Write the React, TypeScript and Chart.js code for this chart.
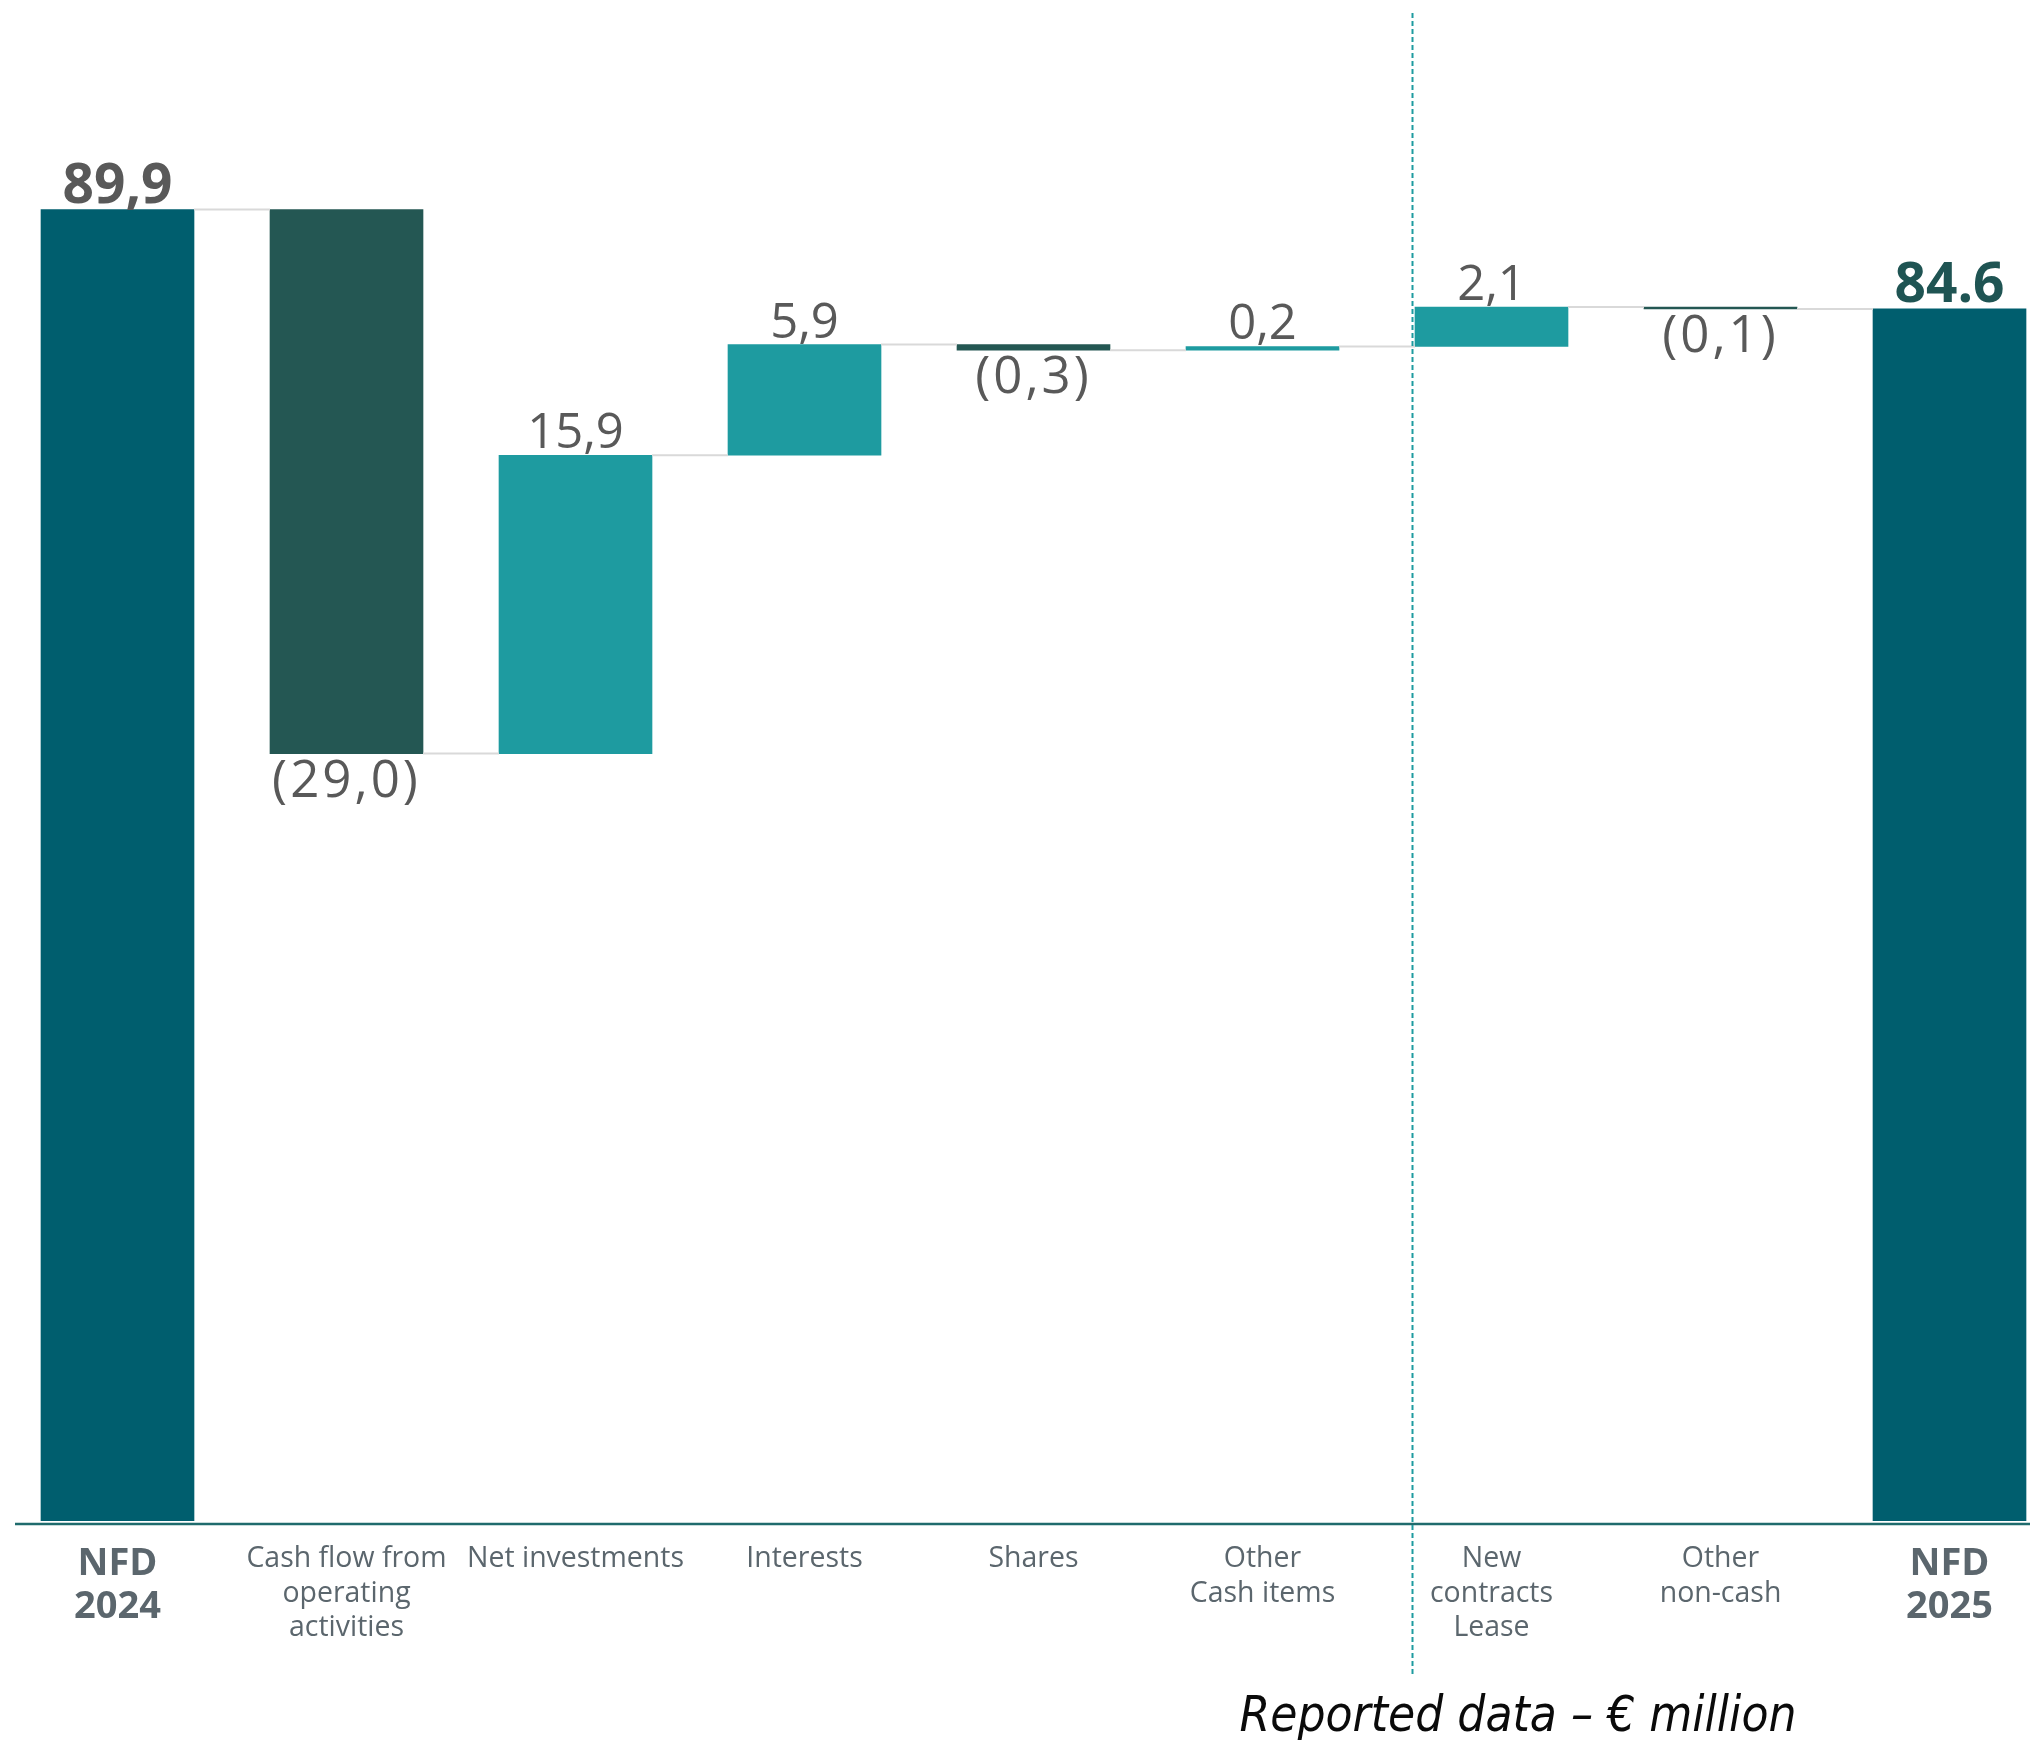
import React, { useEffect, useRef } from 'react';
import { Chart, registerables } from 'chart.js';

Chart.register(...registerables);

// ---------------- data ----------------
const categories: string[][] = [
  ['NFD', '2024'],
  ['Cash flow from', 'operating', 'activities'],
  ['Net investments'],
  ['Interests'],
  ['Shares'],
  ['Other', 'Cash items'],
  ['New', 'contracts', 'Lease'],
  ['Other', 'non-cash'],
  ['NFD', '2025'],
];
const openingNFD = 89.9;
const movements = [-29.0, 15.9, 5.9, -0.3, 0.2, 2.1, -0.1];
const closingNFD = 84.6;
const valueLabels = ['89,9', '(29,0)', '15,9', '5,9', '(0,3)', '0,2', '2,1', '(0,1)', '84.6'];
const yAxisRange = [20, 100];
const xAxisRange = [-0.4476, 8.3515];
const dividerAt = 5.653; // separates cash items from non-cash items
const caption = 'Reported data \u2013 \u20ac million';

// ---------------- styles ----------------
const TOTAL_COLOR = '#005e6e';
const DECREASE_COLOR = '#245753';
const INCREASE_COLOR = '#1e9ba0';
const CONNECTOR_COLOR = '#d9d9d9';
const AXIS_COLOR = '#1f6b6d';
const VALUE_COLOR = '#595959';
const CLOSING_VALUE_COLOR = '#1f5453';
const CATEGORY_COLOR = '#5b666d';

const W = 2030;
const H = 1740;

function pickFont(cands: string[], fallback: string): string {
  const ctx = document.createElement('canvas').getContext('2d');
  if (!ctx) return fallback;
  const sample = 'Cash flow from operating activities 2024';
  for (const f of cands) {
    let differs = false;
    for (const base of ['monospace', 'serif']) {
      ctx.font = `40px ${base}`;
      const a = ctx.measureText(sample).width;
      ctx.font = `40px "${f}", ${base}`;
      const b = ctx.measureText(sample).width;
      if (Math.abs(a - b) > 0.5) differs = true;
    }
    if (differs) return `"${f}"`;
  }
  return fallback;
}

function fitSize(family: string, style: string, text: string, target: number, lo: number, hi: number) {
  const ctx = document.createElement('canvas').getContext('2d');
  if (!ctx) return lo;
  ctx.font = `${style} 100px ${family}`;
  const w = ctx.measureText(text).width / 100;
  return Math.max(lo, Math.min(hi, target / w));
}

export default function App() {
  const ref = useRef<HTMLCanvasElement | null>(null);

  useEffect(() => {
    document.body.style.margin = '0';
    document.body.style.overflow = 'hidden';
    const canvas = ref.current;
    if (!canvas) return;

    const narrow = pickFont(
      ['Liberation Sans Narrow', 'DejaVu Sans Condensed', 'Roboto Condensed', 'Open Sans Condensed', 'Noto Sans Condensed'],
      '"Open Sans"'
    );
    const sans = '"Open Sans", "Noto Sans", sans-serif';
    const capFamily = `${narrow}, ${sans}`;
    const capSize = fitSize(capFamily, 'italic', caption, 557, 36, 54);

    // category label font: Open Sans, horizontally condensed to the reference width
    const CAT_SIZE = 29.5;
    const catFont = `${CAT_SIZE}px ${sans}`;
    let catScaleX = 0.9;
    {
      const m = document.createElement('canvas').getContext('2d');
      if (m) {
        m.font = catFont;
        catScaleX = Math.min(1, 217 / m.measureText('Net investments').width);
      }
    }

    // build floating bars from the data
    const barData: { x: number; y: [number, number] }[] = [];
    const colors: string[] = [];
    const levels: number[] = [];
    let running = openingNFD;
    barData.push({ x: 0, y: [0, openingNFD] });
    colors.push(TOTAL_COLOR);
    levels.push(running);
    movements.forEach((m, i) => {
      const start = running;
      running = Math.round((running + m) * 10) / 10;
      barData.push({ x: i + 1, y: [start, running] });
      colors.push(m < 0 ? DECREASE_COLOR : INCREASE_COLOR);
      levels.push(running);
    });
    barData.push({ x: categories.length - 1, y: [0, closingNFD] });
    colors.push(TOTAL_COLOR);
    levels.push(closingNFD);

    const decor = {
      id: 'waterfallDecor',
      afterDatasetsDraw(chart: any) {
        const ctx = chart.ctx as CanvasRenderingContext2D;
        const xs = chart.scales.x;
        const ys = chart.scales.y;
        const area = chart.chartArea;
        const meta = chart.getDatasetMeta(0);
        const els = meta.data as any[];
        ctx.save();
        // connectors
        ctx.strokeStyle = CONNECTOR_COLOR;
        ctx.lineWidth = 2;
        for (let i = 0; i < els.length - 1; i++) {
          const y = ys.getPixelForValue(levels[i]);
          const x1 = els[i].x + els[i].width / 2;
          const x2 = els[i + 1].x - els[i + 1].width / 2;
          ctx.beginPath();
          ctx.moveTo(x1, y);
          ctx.lineTo(x2, y);
          ctx.stroke();
        }
        // value labels
        ctx.textAlign = 'center';
        ctx.textBaseline = 'alphabetic';
        els.forEach((el, i) => {
          const top = Math.min(el.y, el.base);
          const bottom = Math.max(el.y, el.base);
          const isTotal = i === 0 || i === els.length - 1;
          const isNeg = !isTotal && movements[i - 1] < 0;
          ctx.font = isTotal ? `bold 55px ${sans}` : isNeg ? `51px ${sans}` : `49px ${sans}`;
          (ctx as any).letterSpacing = isNeg ? '3px' : '0px';
          ctx.fillStyle = i === els.length - 1 ? CLOSING_VALUE_COLOR : VALUE_COLOR;
          const label = valueLabels[i];
          if (isNeg) {
            const asc = ctx.measureText(label).actualBoundingBoxAscent;
            ctx.fillText(label, el.x, bottom + 5 + asc);
          } else {
            ctx.fillText(label, el.x, top - 7);
          }
        });
        (ctx as any).letterSpacing = '0px';
        // category labels under the axis
        ctx.fillStyle = CATEGORY_COLOR;
        categories.forEach((lines, i) => {
          const x = xs.getPixelForValue(i);
          const isTotal = i === 0 || i === categories.length - 1;
          lines.forEach((line, j) => {
            if (isTotal) {
              ctx.font = `bold 38px ${sans}`;
              ctx.fillText(line, x, area.bottom + 54 + j * 43);
            } else {
              ctx.font = catFont;
              ctx.save();
              ctx.translate(x, area.bottom + 46 + j * 34.6);
              ctx.scale(catScaleX, 1);
              ctx.fillText(line, 0, 0);
              ctx.restore();
            }
          });
        });
        // axis line (slightly below bars)
        ctx.strokeStyle = AXIS_COLOR;
        ctx.lineWidth = 2.5;
        ctx.beginPath();
        ctx.moveTo(area.left, area.bottom + 3);
        ctx.lineTo(area.right, area.bottom + 3);
        ctx.stroke();
        // divider between cash and non-cash items
        const dx = Math.round(xs.getPixelForValue(dividerAt)) + 0.5;
        ctx.strokeStyle = INCREASE_COLOR;
        ctx.lineWidth = 2;
        ctx.setLineDash([5, 3]);
        ctx.beginPath();
        ctx.moveTo(dx, 13);
        ctx.lineTo(dx, area.bottom + 155);
        ctx.stroke();
        ctx.setLineDash([]);
        // caption
        ctx.fillStyle = '#0a0a0a';
        ctx.font = `italic ${capSize}px ${capFamily}`;
        ctx.textAlign = 'center';
        ctx.fillText(caption, 1518, 1731);
        ctx.restore();
      },
    };

    const chart = new Chart(canvas, {
      type: 'bar',
      data: {
        datasets: [
          {
            data: barData as any,
            backgroundColor: colors,
            borderWidth: 0,
            barThickness: 153,
          },
        ],
      },
      options: {
        animation: false,
        responsive: false,
        maintainAspectRatio: false,
        layout: { padding: { left: 15, top: 20, right: 0, bottom: 0 } },
        plugins: { legend: { display: false }, tooltip: { enabled: false }, title: { display: false } },
        scales: {
          x: {
            type: 'linear',
            min: xAxisRange[0],
            max: xAxisRange[1],
            offset: false,
            grid: { display: false, drawTicks: false },
            border: { display: false },
            afterBuildTicks: (scale: any) => {
              scale.ticks = categories.map((_, i) => ({ value: i }));
            },
            afterFit: (scale: any) => {
              scale.height = 219;
            },
            ticks: {
              display: false,
              autoSkip: false,
              maxRotation: 0,
              minRotation: 0,
              callback: (v: any) => categories[Math.round(Number(v))] ?? '',
            },
          },
          y: {
            type: 'linear',
            display: false,
            min: yAxisRange[0],
            max: yAxisRange[1],
          },
        },
      },
      plugins: [decor],
    });

    return () => chart.destroy();
  }, []);

  return (
    <div style={{ position: 'relative', width: W, height: H }}>
      <canvas ref={ref} width={W} height={H} style={{ display: 'block', width: W, height: H }} />
    </div>
  );
}
